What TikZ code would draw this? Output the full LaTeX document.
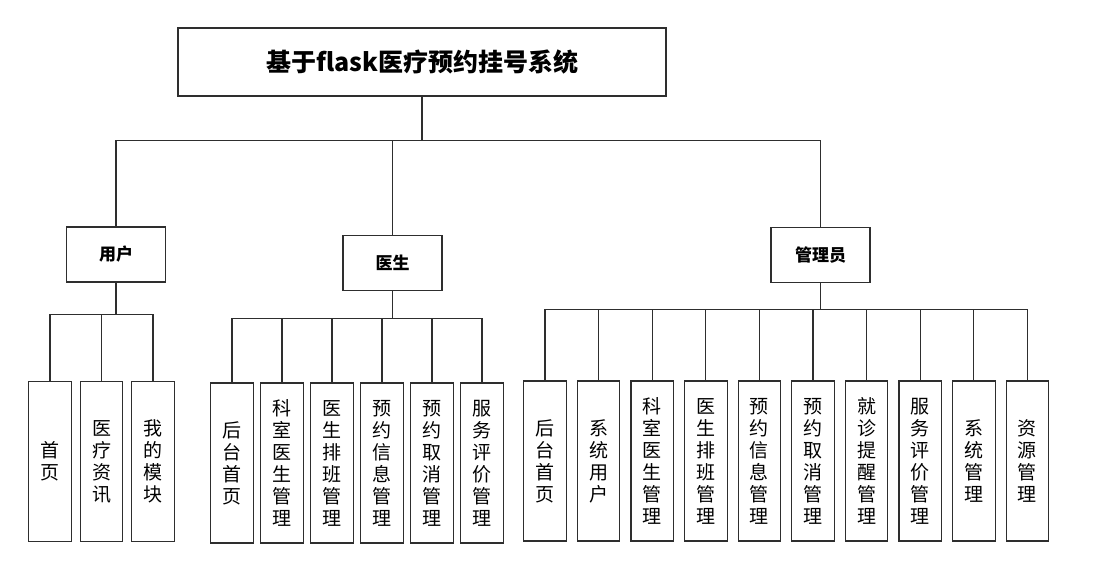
\documentclass[tikz,border=0pt]{standalone}
\usepackage{fontspec}
\setmainfont{Noto Sans CJK SC}
\usepackage{xcolor}
\usepackage{tikz}
\usetikzlibrary{positioning}
\definecolor{ChartLine}{HTML}{2E2E2E}
\tikzset{
  titlebox/.style={draw=ChartLine,line width=1.1pt,minimum width=488pt,minimum height=68pt,
    inner sep=0pt,font=\fontsize{25}{30}\selectfont\bfseries},
  rolebox/.style={draw=ChartLine,line width=1.1pt,minimum width=99pt,minimum height=55pt,
    inner sep=0pt,font=\fontsize{17}{20}\selectfont\bfseries},
  leaf/.style={draw=ChartLine,line width=1.1pt,minimum width=42.5pt,minimum height=160pt,
    inner sep=0pt,align=center,font=\fontsize{19}{22}\selectfont},
  link/.style={draw=ChartLine,line width=1.1pt}
}
\begin{document}
\begin{tikzpicture}[x=1pt,y=-1pt]
  \useasboundingbox[fill=white] (0,0) rectangle (1096,571);
  \node[titlebox] (sys) at (422,62) {基于flask医疗预约挂号系统};
  \node[rolebox] (user) at (116,254.5) {用户};
  \node[rolebox] (doctor) at (392.5,263) {医生};
  \node[rolebox] (admin) at (820.5,255) {管理员};
  \draw[link] (sys.south) -- ++(0,44) -| (user.north);
  \draw[link] (sys.south) -- ++(0,44) -| (doctor.north);
  \draw[link] (sys.south) -- ++(0,44) -| (admin.north);
  % user
  \node[leaf] (u1) at (50,461.5) {首\\页};
  \node[leaf,right=7.9pt of u1] (u2) {医\\疗\\资\\讯};
  \node[leaf,right=7.9pt of u2] (u3) {我\\的\\模\\块};
  \draw[link] (user.south) -- ++(0,32) -| (u1.north);
  \draw[link] (user.south) -- ++(0,32) -| (u2.north);
  \draw[link] (user.south) -- ++(0,32) -| (u3.north);
  % doctor
  \node[leaf] (d1) at (232,463) {后\\台\\首\\页};
  \node[leaf,right=6.4pt of d1] (d2) {科\\室\\医\\生\\管\\理};
  \node[leaf,right=6.4pt of d2] (d3) {医\\生\\排\\班\\管\\理};
  \node[leaf,right=6.4pt of d3] (d4) {预\\约\\信\\息\\管\\理};
  \node[leaf,right=6.4pt of d4] (d5) {预\\约\\取\\消\\管\\理};
  \node[leaf,right=6.4pt of d5] (d6) {服\\务\\评\\价\\管\\理};
  \draw[link] (doctor.south) -- ++(0,27) -| (d1.north);
  \draw[link] (doctor.south) -- ++(0,27) -| (d2.north);
  \draw[link] (doctor.south) -- ++(0,27) -| (d3.north);
  \draw[link] (doctor.south) -- ++(0,27) -| (d4.north);
  \draw[link] (doctor.south) -- ++(0,27) -| (d5.north);
  \draw[link] (doctor.south) -- ++(0,27) -| (d6.north);
  % admin
  \node[leaf] (a1) at (545,461) {后\\台\\首\\页};
  \node[leaf,right=10pt of a1] (a2) {系\\统\\用\\户};
  \node[leaf,right=10pt of a2] (a3) {科\\室\\医\\生\\管\\理};
  \node[leaf,right=10pt of a3] (a4) {医\\生\\排\\班\\管\\理};
  \node[leaf,right=10pt of a4] (a5) {预\\约\\信\\息\\管\\理};
  \node[leaf,right=10pt of a5] (a6) {预\\约\\取\\消\\管\\理};
  \node[leaf,right=10pt of a6] (a7) {就\\诊\\提\\醒\\管\\理};
  \node[leaf,right=10pt of a7] (a8) {服\\务\\评\\价\\管\\理};
  \node[leaf,right=10pt of a8] (a9) {系\\统\\管\\理};
  \node[leaf,right=10pt of a9] (a10) {资\\源\\管\\理};
  \draw[link] (admin.south) -- ++(0,26) -| (a1.north);
  \draw[link] (admin.south) -- ++(0,26) -| (a2.north);
  \draw[link] (admin.south) -- ++(0,26) -| (a3.north);
  \draw[link] (admin.south) -- ++(0,26) -| (a4.north);
  \draw[link] (admin.south) -- ++(0,26) -| (a5.north);
  \draw[link] (admin.south) -- ++(0,26) -| (a6.north);
  \draw[link] (admin.south) -- ++(0,26) -| (a7.north);
  \draw[link] (admin.south) -- ++(0,26) -| (a8.north);
  \draw[link] (admin.south) -- ++(0,26) -| (a9.north);
  \draw[link] (admin.south) -- ++(0,26) -| (a10.north);
\end{tikzpicture}
\end{document}
